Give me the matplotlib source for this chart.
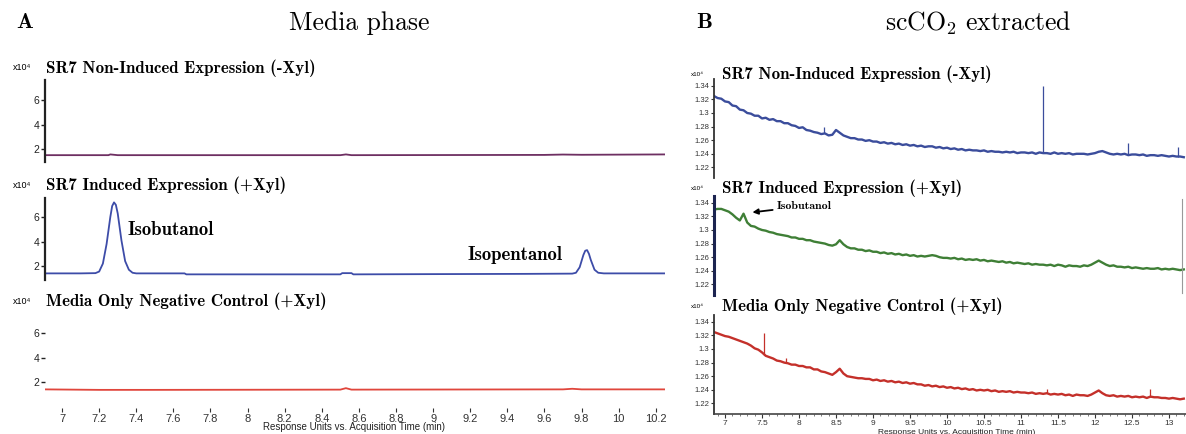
import numpy as np
import matplotlib
matplotlib.use("Agg")
import matplotlib.pyplot as plt

# ---------------- data ----------------
# Panel A: media phase chromatograms (response x10^4 vs time, min)
a_noninduced_t = [6.91, 7.25, 7.26, 7.28, 7.30, 8.50, 8.53, 8.56, 9.60, 9.70, 9.80, 10.25]
a_noninduced_y = [1.50, 1.50, 1.56, 1.53, 1.50, 1.50, 1.56, 1.50, 1.52, 1.55, 1.53, 1.56]

a_induced_t = [6.91, 7.00, 7.10, 7.18, 7.20, 7.22, 7.24, 7.25, 7.26, 7.27, 7.28, 7.29,
               7.30, 7.31, 7.32, 7.34, 7.36, 7.38, 7.40, 7.50, 7.66, 7.67, 8.00, 8.50,
               8.51, 8.56, 8.57, 9.00, 9.50, 9.75, 9.77, 9.79, 9.80, 9.81, 9.82, 9.83,
               9.84, 9.85, 9.87, 9.89, 9.92, 10.00, 10.25]
a_induced_y = [1.40, 1.40, 1.40, 1.42, 1.55, 2.20, 3.80, 4.90, 6.00, 6.90, 7.20, 7.00,
               6.30, 5.20, 4.10, 2.40, 1.70, 1.45, 1.40, 1.40, 1.40, 1.32, 1.32, 1.32,
               1.42, 1.42, 1.32, 1.34, 1.36, 1.38, 1.45, 1.90, 2.40, 2.90, 3.25, 3.30,
               3.00, 2.50, 1.70, 1.45, 1.40, 1.40, 1.40]

a_control_t = [6.91, 7.20, 7.50, 8.50, 8.53, 8.56, 9.70, 9.75, 9.80, 10.25]
a_control_y = [1.40, 1.36, 1.36, 1.38, 1.50, 1.38, 1.40, 1.45, 1.40, 1.40]

a_xticks = [7.0, 7.2, 7.4, 7.6, 7.8, 8.0, 8.2, 8.4, 8.6, 8.8, 9.0, 9.2, 9.4, 9.6, 9.8, 10.0, 10.2]
a_yticks = [2, 4, 6]

# Panel B: scCO2 extracts, sampled every 0.05 min from 6.85 to 13.20
b_t = np.round(np.arange(6.85, 13.2001, 0.05), 2)

b_noninduced_y = [
    1.325, 1.322, 1.321, 1.317, 1.316, 1.311, 1.310, 1.305, 1.304, 1.300,
    1.299, 1.296, 1.296, 1.292, 1.293, 1.290, 1.291, 1.288, 1.288, 1.285,
    1.285, 1.282, 1.281, 1.278, 1.279, 1.275, 1.274, 1.272, 1.271, 1.269,
    1.270, 1.267, 1.268, 1.275, 1.271, 1.267, 1.265, 1.263, 1.263, 1.261,
    1.261, 1.259, 1.260, 1.258, 1.258, 1.256, 1.257, 1.255, 1.256, 1.254,
    1.255, 1.253, 1.254, 1.252, 1.253, 1.251, 1.252, 1.250, 1.251, 1.251,
    1.249, 1.250, 1.248, 1.249, 1.247, 1.248, 1.246, 1.247, 1.245, 1.246,
    1.245, 1.245, 1.244, 1.245, 1.243, 1.244, 1.243, 1.243, 1.242, 1.243,
    1.242, 1.243, 1.241, 1.242, 1.242, 1.241, 1.242, 1.240, 1.242, 1.241,
    1.241, 1.240, 1.242, 1.240, 1.241, 1.240, 1.241, 1.239, 1.240, 1.240,
    1.240, 1.239, 1.240, 1.241, 1.243, 1.244, 1.242, 1.240, 1.239, 1.240,
    1.239, 1.240, 1.238, 1.239, 1.239, 1.238, 1.239, 1.237, 1.238, 1.238,
    1.237, 1.238, 1.237, 1.236, 1.237, 1.236, 1.236, 1.235]

b_induced_y = [
    1.330, 1.331, 1.331, 1.329, 1.327, 1.323, 1.318, 1.314, 1.324, 1.311,
    1.306, 1.305, 1.302, 1.300, 1.299, 1.297, 1.296, 1.294, 1.293, 1.292,
    1.291, 1.289, 1.289, 1.287, 1.287, 1.285, 1.285, 1.283, 1.282, 1.281,
    1.280, 1.278, 1.277, 1.279, 1.285, 1.279, 1.275, 1.273, 1.273, 1.271,
    1.271, 1.269, 1.270, 1.268, 1.268, 1.266, 1.267, 1.265, 1.266, 1.264,
    1.265, 1.263, 1.264, 1.262, 1.263, 1.261, 1.262, 1.261, 1.262, 1.263,
    1.262, 1.260, 1.259, 1.259, 1.258, 1.259, 1.257, 1.258, 1.256, 1.257,
    1.256, 1.257, 1.255, 1.256, 1.254, 1.255, 1.254, 1.253, 1.254, 1.252,
    1.253, 1.251, 1.252, 1.251, 1.250, 1.251, 1.249, 1.250, 1.249, 1.249,
    1.248, 1.249, 1.247, 1.249, 1.248, 1.246, 1.248, 1.247, 1.247, 1.246,
    1.248, 1.247, 1.249, 1.252, 1.255, 1.252, 1.249, 1.247, 1.248, 1.246,
    1.246, 1.245, 1.246, 1.244, 1.245, 1.244, 1.243, 1.244, 1.243, 1.243,
    1.244, 1.242, 1.243, 1.242, 1.243, 1.242, 1.241, 1.242]

b_control_y = [
    1.325, 1.323, 1.321, 1.319, 1.318, 1.316, 1.314, 1.312, 1.310, 1.308,
    1.305, 1.301, 1.299, 1.295, 1.290, 1.288, 1.286, 1.283, 1.282, 1.280,
    1.279, 1.277, 1.277, 1.275, 1.275, 1.273, 1.273, 1.270, 1.270, 1.267,
    1.266, 1.264, 1.262, 1.266, 1.271, 1.264, 1.260, 1.259, 1.258, 1.257,
    1.257, 1.256, 1.256, 1.254, 1.255, 1.253, 1.254, 1.252, 1.253, 1.251,
    1.252, 1.250, 1.251, 1.249, 1.250, 1.248, 1.248, 1.246, 1.247, 1.245,
    1.246, 1.244, 1.245, 1.243, 1.244, 1.242, 1.243, 1.241, 1.242, 1.240,
    1.241, 1.239, 1.240, 1.239, 1.240, 1.238, 1.239, 1.237, 1.238, 1.237,
    1.238, 1.236, 1.237, 1.236, 1.236, 1.235, 1.236, 1.234, 1.235, 1.234,
    1.235, 1.233, 1.234, 1.233, 1.234, 1.232, 1.233, 1.231, 1.233, 1.232,
    1.232, 1.231, 1.233, 1.236, 1.239, 1.235, 1.232, 1.231, 1.232, 1.230,
    1.231, 1.230, 1.231, 1.229, 1.230, 1.229, 1.230, 1.228, 1.230, 1.229,
    1.229, 1.228, 1.228, 1.227, 1.228, 1.227, 1.226, 1.227]

# narrow spikes: time, base, top
b_noninduced_spikes = ([8.34, 11.30, 12.45, 13.12], [1.270, 1.241, 1.239, 1.236], [1.280, 1.340, 1.256, 1.250])
b_induced_spikes = ([], [], [])
b_control_spikes = ([7.52, 7.83, 11.35, 12.74], [1.291, 1.280, 1.235, 1.229], [1.323, 1.287, 1.241, 1.241])

b_xticks = [7, 7.5, 8, 8.5, 9, 9.5, 10, 10.5, 11, 11.5, 12, 12.5, 13]
b_yticks = [1.22, 1.24, 1.26, 1.28, 1.30, 1.32, 1.34]

titles = ["SR7 Non-Induced Expression (-Xyl)",
          "SR7 Induced Expression (+Xyl)",
          "Media Only Negative Control (+Xyl)"]

# ---------------- figure ----------------
W, H = 1186, 434
fig = plt.figure(figsize=(W / 100, H / 100), dpi=100)
fig.patch.set_facecolor("white")

SERIF_B = ["cmb10", "DejaVu Serif"]
SERIF_R = ["cmr10", "DejaVu Serif"]
SANS = ["Liberation Sans Narrow", "Liberation Sans", "DejaVu Sans"]
plt.rcParams["mathtext.fontset"] = "cm"


def add_px_axes(left, top, right, bottom):
    return fig.add_axes([left / W, 1 - bottom / H, (right - left) / W, (bottom - top) / H])


def ftext(x, y, s, **kw):
    kw.setdefault("va", "center")
    return fig.text(x / W, 1 - y / H, s, **kw)


def fmt(v):
    return f"{v:g}"


# Panel headings
ftext(25, 23, "A", fontsize=16, family=SERIF_B, ha="center")
ftext(359, 23, "Media phase", fontsize=18.5, family=SERIF_R, ha="center")
ftext(704, 23, "B", fontsize=16, family=SERIF_B, ha="center")
ftext(978, 23, r"scCO$_2$ extracted", fontsize=18.5, family=SERIF_R, ha="center")

# ---------- panel A ----------
a_rows = [(80.5, 162.5), (197.5, 279.5), (313.5, 395.5)]
a_title_y = [68, 185, 301]
a_series = [(a_noninduced_t, a_noninduced_y, "#6e2f62"),
            (a_induced_t, a_induced_y, "#3d4ca8"),
            (a_control_t, a_control_y, "#e0463c")]

a_axes = []
for i, ((top, bot), (t, y, c)) in enumerate(zip(a_rows, a_series)):
    ax = add_px_axes(45, top, 665, bot)
    ax.plot(t, y, color=c, lw=1.3)
    ax.set_xlim(6.908, 10.25)
    ax.set_ylim(0.9, 7.6)
    ax.set_facecolor("none")
    for s in ("top", "right", "bottom"):
        ax.spines[s].set_visible(False)
    ax.spines["left"].set_color("#222222")
    ax.spines["left"].set_linewidth(1.6)
    if i == 2:
        ax.spines["left"].set_visible(False)
    ax.set_yticks(a_yticks)
    ax.set_yticklabels([fmt(v) for v in a_yticks])
    ax.tick_params(axis="y", direction="out", length=3, width=1, pad=1,
                   labelsize=7.5, colors="#222222")
    for lab in ax.get_yticklabels():
        lab.set_family(SANS)
    if i < 2:
        ax.set_xticks([])
    else:
        ax.spines["bottom"].set_position(("outward", 9))
        ax.set_xticks(a_xticks)
        ax.set_xticklabels([fmt(v) for v in a_xticks])
        ax.tick_params(axis="x", direction="out", length=3, width=0.8, pad=1,
                       labelsize=8, colors="#333333")
        for lab in ax.get_xticklabels():
            lab.set_family(SANS)
    ftext(13, a_title_y[i], "x10⁴", fontsize=6.5, family=["Liberation Sans", "DejaVu Sans"])
    ftext(46, a_title_y[i], titles[i], fontsize=12.2, family=SERIF_B)
    a_axes.append(ax)

a_axes[1].text(7.355, 4.95, "Isobutanol", fontsize=13.5, family=SERIF_B, va="center")
a_axes[1].text(9.183, 2.89, "Isopentanol", fontsize=13.5, family=SERIF_B, va="center")
ftext(354, 427, "Response Units vs. Acquisition Time (min)", fontsize=7, family=SANS,
      ha="center", color="#222222")

# ---------- panel B ----------
b_rows = [(79, 177.6), (196, 294.6), (315, 413.6)]
b_title_y = [74, 188, 306]
b_series = [(b_noninduced_y, b_noninduced_spikes, "#3b4d9c"),
            (b_induced_y, b_induced_spikes, "#3f7f36"),
            (b_control_y, b_control_spikes, "#c4302a")]

b_axes = []
for i, ((top, bot), (y, spikes, c)) in enumerate(zip(b_rows, b_series)):
    ax = add_px_axes(714, top, 1186, bot)
    ax.plot(b_t, y, color=c, lw=1.7)
    if spikes[0]:
        ax.vlines(spikes[0], spikes[1], spikes[2], color=c, lw=0.9)
    ax.set_xlim(6.851, 13.23)
    ax.set_ylim(1.205, 1.350)
    ax.set_facecolor("none")
    for s in ("top", "right"):
        ax.spines[s].set_visible(False)
    ax.spines["left"].set_color("#1c2450" if i == 1 else "#333333")
    ax.spines["left"].set_linewidth(2.2 if i == 1 else 1.3)
    ax.set_yticks(b_yticks)
    ax.set_yticklabels([fmt(v) for v in b_yticks])
    ax.tick_params(axis="y", direction="out", length=2.5, width=0.8, pad=1,
                   labelsize=5.5, colors="#333333")
    for lab in ax.get_yticklabels():
        lab.set_family(SANS)
    if i < 2:
        ax.spines["bottom"].set_visible(False)
        ax.set_xticks([])
    else:
        ax.spines["bottom"].set_color("#444444")
        ax.spines["bottom"].set_linewidth(1.2)
        ax.set_xticks(b_xticks)
        ax.set_xticklabels([fmt(v) for v in b_xticks])
        ax.set_xticks(np.round(np.arange(6.9, 13.21, 0.1), 1), minor=True)
        ax.tick_params(axis="x", which="major", direction="out", length=3, width=0.8,
                       pad=1.5, labelsize=6, colors="#333333")
        ax.tick_params(axis="x", which="minor", direction="out", length=1.5, width=0.6,
                       colors="#666666")
        for lab in ax.get_xticklabels():
            lab.set_family(SANS)
    ftext(691, b_title_y[i], "x10⁴", fontsize=4.5, family=["Liberation Sans", "DejaVu Sans"])
    ftext(722, b_title_y[i], titles[i], fontsize=12.2, family=SERIF_B)
    b_axes.append(ax)

# thin marker line at the end of the induced trace
b_axes[1].axvline(13.17, ymin=0.02, ymax=0.97, color="#999999", lw=0.8)

b_axes[1].annotate("Isobutanol", xy=(7.37, 1.326), xytext=(7.70, 1.335),
                   fontsize=8.5, family=SERIF_B, va="center",
                   arrowprops=dict(arrowstyle="-|>", color="black", lw=1.3,
                                   mutation_scale=8, shrinkA=1, shrinkB=0))
ftext(957, 432, "Response Units vs. Acquisition Time (min)", fontsize=6, family=SANS,
      ha="center", color="#222222")

fig.savefig("out.png", dpi=100, facecolor="white")
